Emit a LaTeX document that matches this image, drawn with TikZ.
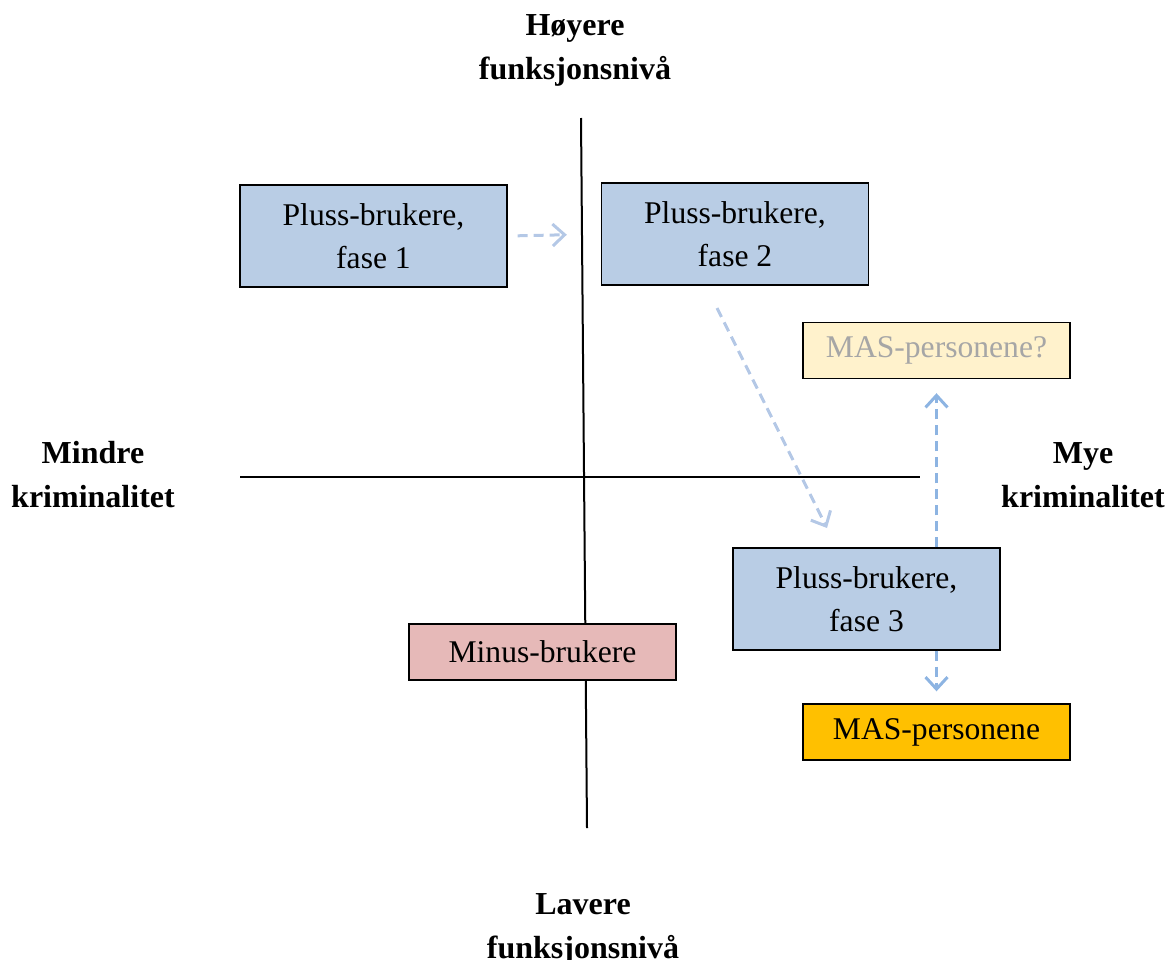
\documentclass[tikz,border=0pt]{standalone}
\usepackage{fontspec}
\setmainfont{Liberation Serif}
\usetikzlibrary{arrows.meta}
\definecolor{plussblue}{RGB}{185,205,229}
\definecolor{minusred}{RGB}{230,185,184}
\definecolor{maspale}{RGB}{255,242,204}
\definecolor{masgold}{RGB}{255,192,0}
\definecolor{paletip}{RGB}{180,200,230}
\definecolor{darktip}{RGB}{141,180,226}
\tikzset{
  box/.style={draw, line width=0.7pt, minimum width=133.5pt, inner sep=0pt, align=center,
    font=\fontsize{15.8}{21.5}\selectfont},
  tall/.style={box, minimum height=51pt},
  flat/.style={box, minimum height=28pt},
  axislabel/.style={align=center, font=\fontsize{16}{22}\selectfont\bfseries},
  flow/.style={dashed, dash pattern=on 5pt off 3pt, line width=1.5pt,
    -{Straight Barb[length=6pt, width=11pt]}},
}
\begin{document}
\begin{tikzpicture}[x=0.5pt, y=-0.5pt]
\useasboundingbox (0,0) rectangle (1167,959);
% axes
\draw[line width=1pt] (581,118) -- (587,828);
\draw[line width=1pt] (240,477) -- (920,477);
% axis labels
\node[axislabel] (hoy) at (575,50) {Høyere\\funksjonsnivå};
\node[axislabel] (lav) at (583,929) {Lavere\\funksjonsnivå};
\node[axislabel] (mindre) at (93,475) {Mindre\\kriminalitet};
\node[axislabel] (mye) at (1083,475) {Mye\\kriminalitet};
% boxes
\node[tall, fill=plussblue] (fase1) at (373.5,236) {Pluss-brukere,\\fase 1};
\node[tall, fill=plussblue] (fase2) at (735,234) {Pluss-brukere,\\fase 2};
\node[tall, fill=plussblue] (fase3) at (866.5,599) {Pluss-brukere,\\fase 3};
\node[flat, fill=minusred] (minus) at (542.5,652) {Minus-brukere};
\node[flat, fill=maspale, text=black!35] (masq) at (936.5,350.5) {MAS-personene?};
\node[flat, fill=masgold] (mas) at (936.5,732) {MAS-personene};
% arrows
\coordinate (d1) at (717,308);
\coordinate (d2) at (827,528);
\draw[flow, paletip, shorten <=5pt, shorten >=17pt] (fase1.east) -- (fase2.west);
\draw[flow, paletip] (d1) -- (d2);
\draw[flow, darktip, shorten >=7pt] (fase3.north -| masq.south) -- (masq.south);
\draw[flow, darktip, shorten >=6pt] (fase3.south -| mas.north) -- (mas.north);
\end{tikzpicture}
\end{document}
